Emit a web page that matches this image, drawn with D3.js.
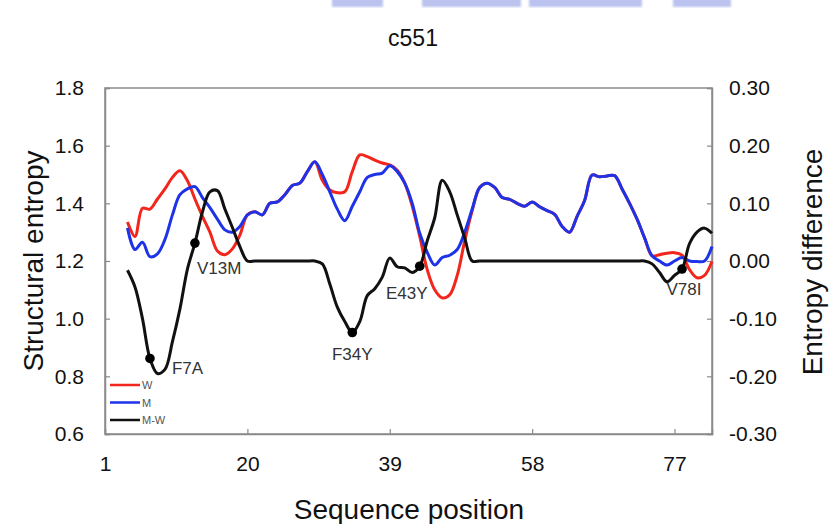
<!DOCTYPE html>
<html>
<head>
<meta charset="utf-8">
<script src="https://cdn.jsdelivr.net/npm/d3@7"></script>
<style>
  html, body { margin: 0; padding: 0; background: #fff; }
  svg { display: block; font-family: "Liberation Sans", Arial, sans-serif; }
</style>
</head>
<body>
<svg id="chart" width="829" height="524"></svg>
<script>
// ---- data ----
const positions = d3.range(4, 83); // sequence positions 4..82
const wEntropy = [
  1.335, 1.285, 1.383, 1.380, 1.415, 1.450, 1.490, 1.513, 1.478, 1.415,
  1.355, 1.300, 1.235, 1.222, 1.242, 1.290, 1.360, 1.371, 1.360, 1.400,
  1.405, 1.430, 1.462, 1.470, 1.510, 1.544, 1.480, 1.446, 1.437, 1.440,
  1.510, 1.568, 1.562, 1.550, 1.540, 1.533, 1.515, 1.470, 1.390, 1.285,
  1.170, 1.100, 1.072, 1.083, 1.150, 1.270, 1.375, 1.455, 1.470, 1.455,
  1.420, 1.414, 1.400, 1.390, 1.405, 1.388, 1.375, 1.362, 1.320, 1.300,
  1.355, 1.410, 1.498, 1.492, 1.495, 1.496, 1.450, 1.400, 1.345, 1.280,
  1.218, 1.222, 1.227, 1.229, 1.220, 1.170, 1.142, 1.150, 1.198
];
const mEntropy = [
  1.315, 1.240, 1.265, 1.215, 1.225, 1.275, 1.360, 1.430, 1.450, 1.458,
  1.420, 1.385, 1.345, 1.308, 1.300, 1.320, 1.360, 1.371, 1.360, 1.400,
  1.405, 1.430, 1.462, 1.470, 1.510, 1.544, 1.500, 1.440, 1.380, 1.340,
  1.390, 1.440, 1.490, 1.500, 1.505, 1.530, 1.510, 1.470, 1.400, 1.296,
  1.230, 1.186, 1.212, 1.220, 1.240, 1.300, 1.380, 1.455, 1.470, 1.455,
  1.420, 1.414, 1.400, 1.390, 1.405, 1.388, 1.375, 1.362, 1.320, 1.300,
  1.355, 1.410, 1.498, 1.492, 1.495, 1.496, 1.450, 1.400, 1.345, 1.280,
  1.218, 1.200, 1.186, 1.200, 1.212, 1.200, 1.198, 1.200, 1.250
];
const diffEntropy = [
  -0.016, -0.045, -0.100, -0.169, -0.195, -0.188, -0.140, -0.083, -0.014, 0.031,
  0.085, 0.120, 0.122, 0.090, 0.058, 0.025, 0.000, 0.000, 0.000, 0.000,
  0.000, 0.000, 0.000, 0.000, 0.000, 0.000, -0.005, -0.040, -0.080, -0.105,
  -0.124, -0.105, -0.060, -0.048, -0.028, 0.005, -0.010, -0.012, -0.020, -0.009,
  0.035, 0.075, 0.140, 0.120, 0.080, 0.040, 0.000, 0.000, 0.000, 0.000,
  0.000, 0.000, 0.000, 0.000, 0.000, 0.000, 0.000, 0.000, 0.000, 0.000,
  0.000, 0.000, 0.000, 0.000, 0.000, 0.000, 0.000, 0.000, 0.000, 0.000,
  -0.005, -0.020, -0.036, -0.025, -0.014, 0.030, 0.050, 0.057, 0.048
];
const mutationNames = ["F7A", "V13M", "F34Y", "E43Y", "V78I"];
const mutationPos = [7, 13, 34, 43, 78];
const xTicks = [1, 20, 39, 58, 77];
const leftTicks = [0.6, 0.8, 1.0, 1.2, 1.4, 1.6, 1.8];
const rightTicks = [-0.3, -0.2, -0.1, 0.0, 0.1, 0.2, 0.3];
const seriesNames = ["W", "M", "M-W"];

// ---- style ----
const colors = { "W": "#f2261c", "M": "#1e32e8", "M-W": "#111111" };
const labelOffsets = [[22, 16, "start"], [2, 31, "start"], [0, 27, "middle"], [-13, 33, "middle"], [2, 26, "middle"]];

const svg = d3.select("#chart");
const x = d3.scaleLinear().domain([1, 82]).range([105, 712]);
const yL = d3.scaleLinear().domain([0.6, 1.8]).range([434, 88]);
const yR = d3.scaleLinear().domain([-0.3, 0.3]).range([434, 88]);

// faint, cut-off banner fragment at the very top of the source image
const defs = svg.append("defs");
defs.append("filter").attr("id", "blur").append("feGaussianBlur").attr("stdDeviation", 1.2);
const banner = [[332, 383], [422, 521], [529, 642], [673, 731]];
svg.append("g").attr("filter", "url(#blur)").selectAll("rect").data(banner).join("rect")
  .attr("x", d => d[0]).attr("y", -2).attr("width", d => d[1] - d[0]).attr("height", 9)
  .attr("fill", "#a4afe8").attr("opacity", 0.75);

// title
svg.append("text").attr("x", 413).attr("y", 46).attr("text-anchor", "middle")
  .attr("font-size", 23).attr("fill", "#111").text("c551");

// plot frame
svg.append("rect").attr("x", 105).attr("y", 88).attr("width", 607).attr("height", 346)
  .attr("fill", "none").attr("stroke", "#8a8a8a").attr("stroke-width", 1.5);

// axes
const axColor = "#8a8a8a";
function styleAxis(g) {
  g.select(".domain").attr("stroke", axColor).attr("stroke-width", 1.5);
  g.selectAll(".tick line").attr("stroke", axColor).attr("stroke-width", 1.2);
  g.selectAll(".tick text").attr("fill", "#111").attr("font-size", 21)
    .attr("font-family", "Liberation Sans, Arial, sans-serif");
}
svg.append("g").attr("transform", "translate(105,0)")
  .call(d3.axisLeft(yL).tickValues(leftTicks).tickSize(-5).tickPadding(21).tickFormat(d3.format(".1f")))
  .call(styleAxis);
svg.append("g").attr("transform", "translate(712,0)")
  .call(d3.axisRight(yR).tickValues(rightTicks).tickSize(-5).tickPadding(17).tickFormat(d => d.toFixed(2)))
  .call(styleAxis);
svg.append("g").attr("transform", "translate(0,434)")
  .call(d3.axisBottom(x).tickValues(xTicks).tickSize(-5).tickPadding(22).tickFormat(d3.format("d")))
  .call(styleAxis);

// axis titles
svg.append("text").attr("transform", "translate(33,261) rotate(-90)").attr("dy", "0.35em")
  .attr("text-anchor", "middle").attr("font-size", 28).attr("fill", "#111").text("Structural entropy");
svg.append("text").attr("transform", "translate(812,262) rotate(-90)").attr("dy", "0.35em")
  .attr("text-anchor", "middle").attr("font-size", 28).attr("fill", "#111").text("Entropy difference");
svg.append("text").attr("x", 409).attr("y", 519).attr("text-anchor", "middle")
  .attr("font-size", 28).attr("fill", "#111").text("Sequence position");

// lines
const wData = positions.map((p, i) => [p, wEntropy[i]]);
const mData = positions.map((p, i) => [p, mEntropy[i]]);
const dData = positions.map((p, i) => [p, diffEntropy[i]]);
const lineL = d3.line().x(d => x(d[0])).y(d => yL(d[1])).curve(d3.curveCatmullRom.alpha(0.5));
const lineR = d3.line().x(d => x(d[0])).y(d => yR(d[1])).curve(d3.curveCatmullRom.alpha(0.5));

svg.append("path").datum(wData).attr("d", lineL).attr("fill", "none")
  .attr("stroke", colors["W"]).attr("stroke-width", 3).attr("stroke-linejoin", "round");
svg.append("path").datum(mData).attr("d", lineL).attr("fill", "none")
  .attr("stroke", colors["M"]).attr("stroke-width", 3).attr("stroke-linejoin", "round");
svg.append("path").datum(dData).attr("d", lineR).attr("fill", "none")
  .attr("stroke", colors["M-W"]).attr("stroke-width", 3).attr("stroke-linejoin", "round");

// mutation markers
const muts = mutationNames.map((n, i) => ({
  name: n, pos: mutationPos[i], val: diffEntropy[positions.indexOf(mutationPos[i])], off: labelOffsets[i]
}));
svg.append("g").selectAll("circle").data(muts).join("circle")
  .attr("cx", d => x(d.pos)).attr("cy", d => yR(d.val)).attr("r", 4.8).attr("fill", "#000");
svg.append("g").selectAll("text").data(muts).join("text")
  .attr("x", d => x(d.pos) + d.off[0]).attr("y", d => yR(d.val) + d.off[1])
  .attr("text-anchor", d => d.off[2]).attr("font-size", 17).attr("fill", "#333").text(d => d.name);

// legend
const leg = svg.append("g").selectAll("g").data(seriesNames).join("g")
  .attr("transform", (d, i) => `translate(110,${385 + i * 17.5})`);
leg.append("line").attr("x1", 0).attr("x2", 30).attr("y1", 0).attr("y2", 0)
  .attr("stroke", d => colors[d]).attr("stroke-width", 2.5);
leg.append("text").attr("x", 32).attr("y", 4).attr("font-size", 11).attr("fill", "#555").text(d => d);
</script>
</body>
</html>
